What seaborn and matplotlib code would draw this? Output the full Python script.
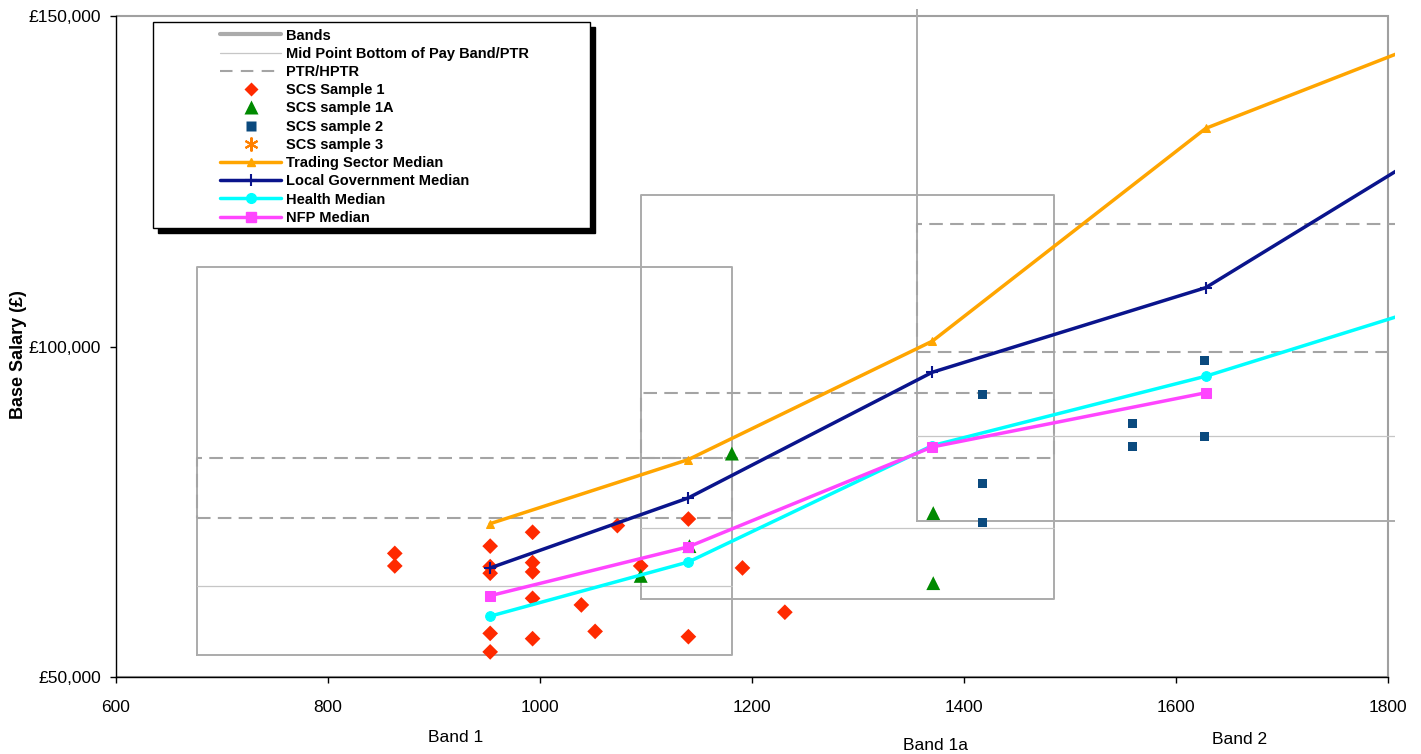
import matplotlib
matplotlib.use('Agg')
import matplotlib.pyplot as plt
import matplotlib.transforms as mtransforms
from matplotlib.lines import Line2D
from matplotlib.patches import Rectangle
from matplotlib import font_manager
import seaborn as sns

# Pay bands (job size range on x, salary range on y)
band_names = ['Band 1', 'Band 1a', 'Band 2']
band_left = [676, 1095, 1356]
band_right = [1181, 1485, 1900]
band_bottom = [53300, 61800, 73600]
band_top = [112100, 122900, 160000]
band_mid = [63800, 72600, 86500]
ptr_low = [74100, 83200, 99200]
ptr_high = [83200, 92900, 118500]
band_label_x = [920, 1373, 1660]

# SCS samples
scs1_x = [863, 863, 953, 953, 953, 953, 953, 993, 993, 993, 993, 993,
          1039, 1052, 1073, 1095, 1140, 1140, 1191, 1231]
scs1_y = [68700, 66800, 69800, 66700, 65700, 56600, 53800, 71900, 67300, 65900, 61900, 55800,
          60900, 56900, 72900, 66800, 73900, 56100, 66500, 59800]
scs1a_x = [1095, 1141, 1181, 1371, 1371]
scs1a_y = [65300, 69800, 83800, 74800, 64200]
scs2_x = [1417, 1417, 1417, 1559, 1559, 1627, 1627]
scs2_y = [92800, 79300, 73300, 88300, 84800, 97900, 86400]
scs3_x = []
scs3_y = []

# Market medians
median_x = [953, 1140, 1370, 1628, 1850]
trading_median = [73200, 82900, 100800, 133000, 146900]
local_gov_median = [66500, 77100, 96100, 108900, 130700]
health_median = [59200, 67400, 85000, 95500, 106600]
nfp_x = [953, 1140, 1370, 1628]
nfp_median = [62300, 69700, 84800, 93000]

x_ticks = [600, 800, 1000, 1200, 1400, 1600, 1800]
y_ticks = [50000, 100000, 150000]
y_tick_labels = ['£50,000', '£100,000', '£150,000']

legend_labels = ['Bands', 'Mid Point Bottom of Pay Band/PTR', 'PTR/HPTR', 'SCS Sample 1',
                 'SCS sample 1A', 'SCS sample 2', 'SCS sample 3', 'Trading Sector Median',
                 'Local Government Median', 'Health Median', 'NFP Median']

band_color = '#ABABAB'
mid_color = '#C6C6C6'
ptr_color = '#A4A4A4'
ptr_dash = (0, (6.5, 3.5))
scs1_color = '#FF2A00'
scs1a_color = '#008A00'
scs2_color = '#0B4A7E'
scs3_color = '#FF8000'
trading_color = '#FFA500'
lg_color = '#0A148C'
health_color = '#00FFFF'
nfp_color = '#FF45FF'
median_lw = 2.5

sns.set_style('ticks')
names = {f.name for f in font_manager.fontManager.ttflist}
tick_family = 'Liberation Sans Narrow' if 'Liberation Sans Narrow' in names else 'Liberation Sans'
plt.rcParams['font.family'] = [tick_family, 'DejaVu Sans']
plt.rcParams['text.color'] = 'black'
plt.rcParams['axes.labelcolor'] = 'black'
plt.rcParams['xtick.color'] = 'black'
plt.rcParams['ytick.color'] = 'black'
tick_size = 13.5 if tick_family == 'Liberation Sans Narrow' else 12.5

W, H = 1421, 754
fig = plt.figure(figsize=(W / 100, H / 100), dpi=100)
ax = fig.add_axes([116 / W, 77 / H, 1279 / W, 668 / H])

# plot area border
ax.add_patch(Rectangle((600, 50000), 1200, 100000, fill=False, edgecolor='#A0A0A0', lw=1.5, zorder=0.5))

# bands, mid points and PTR boxes
for i in range(len(band_names)):
    l, r = band_left[i], band_right[i]
    ax.plot([l, r, r, l, l], [band_bottom[i], band_bottom[i], band_top[i], band_top[i], band_bottom[i]],
            color=band_color, lw=1.4, zorder=1)
    ax.plot([l, r], [band_mid[i], band_mid[i]], color=mid_color, lw=0.9, zorder=1)
    ax.plot([l, r, r, l, l], [ptr_low[i], ptr_low[i], ptr_high[i], ptr_high[i], ptr_low[i]],
            color=ptr_color, lw=1.5, ls=ptr_dash, zorder=1.2)

# samples
sns.scatterplot(x=scs1_x, y=scs1_y, marker='D', s=64, color=scs1_color, edgecolor='none', ax=ax, zorder=3)
sns.scatterplot(x=scs1a_x, y=scs1a_y, marker='^', s=100, color=scs1a_color, edgecolor='none', ax=ax, zorder=3)
sns.scatterplot(x=scs2_x, y=scs2_y, marker='s', s=42, color=scs2_color, edgecolor='none', ax=ax, zorder=3)

# medians
sns.lineplot(x=median_x, y=trading_median, color=trading_color, lw=median_lw, marker='^', ms=6,
             mec=trading_color, sort=False, estimator=None, ax=ax, zorder=4)
sns.lineplot(x=median_x, y=local_gov_median, color=lg_color, lw=median_lw, marker='+', ms=8, mew=1.5,
             mec=lg_color, sort=False, estimator=None, ax=ax, zorder=4)
sns.lineplot(x=median_x, y=health_median, color=health_color, lw=median_lw, marker='o', ms=7,
             mec=health_color, sort=False, estimator=None, ax=ax, zorder=4)
sns.lineplot(x=nfp_x, y=nfp_median, color=nfp_color, lw=median_lw, marker='s', ms=7.5,
             mec=nfp_color, sort=False, estimator=None, ax=ax, zorder=4)

ax.set_xlim(600, 1806.6)
ax.set_ylim(50000, 151060)
ax.set_xticks(x_ticks)
ax.set_xticklabels([str(t) for t in x_ticks])
ax.set_yticks(y_ticks)
ax.set_yticklabels(y_tick_labels)
ax.tick_params(axis='both', direction='out', length=4.5, width=1, color='black',
               labelcolor='black', labelsize=tick_size)
ax.tick_params(axis='x', pad=12)
ax.tick_params(axis='y', pad=6.4)
for side in ['top', 'right']:
    ax.spines[side].set_visible(False)
ax.spines['left'].set_bounds(50000, 150000)
ax.spines['bottom'].set_bounds(600, 1800)
for side in ['left', 'bottom']:
    ax.spines[side].set_color('black')
    ax.spines[side].set_linewidth(1)

ax.set_ylabel('Base Salary (£)', fontsize=13, fontweight='bold', color='black',
              family=['Liberation Sans', 'DejaVu Sans'])
ax.yaxis.set_label_coords(-0.0696, 0.483)

# band names under the axis
trans = mtransforms.blended_transform_factory(ax.transData, fig.transFigure)
label_y_px = [737, 745, 740]
for name, bx, py in zip(band_names, band_label_x, label_y_px):
    ax.text(bx, 1 - py / H, name, transform=trans, ha='center', va='center', fontsize=tick_size,
            color='black', clip_on=False)

# legend with shadowed frame
handles = [
    Line2D([], [], color=band_color, lw=3),
    Line2D([], [], color=mid_color, lw=0.9),
    Line2D([], [], color=ptr_color, lw=1.5, ls=(0, (6, 4))),
    Line2D([], [], ls='none', marker='D', ms=7.5, color=scs1_color, mec='none'),
    Line2D([], [], ls='none', marker='^', ms=10, color=scs1a_color, mec='none'),
    Line2D([], [], ls='none', marker='s', ms=6.5, color=scs2_color, mec='none'),
    Line2D([], [], ls='none', marker=(6, 2, 0), ms=10, color=scs3_color, mew=1.5),
    Line2D([], [], color=trading_color, lw=median_lw, marker='^', ms=6),
    Line2D([], [], color=lg_color, lw=median_lw, marker='+', ms=8, mew=1.5),
    Line2D([], [], color=health_color, lw=median_lw, marker='o', ms=7),
    Line2D([], [], color=nfp_color, lw=median_lw, marker='s', ms=7.5),
]
ax.add_artist(Rectangle((158 / W, 1 - 233 / H), 437 / W, 206 / H, transform=fig.transFigure,
                        facecolor='black', edgecolor='black', lw=1, zorder=6, clip_on=False))
ax.add_artist(Rectangle((153 / W, 1 - 228 / H), 437 / W, 206 / H, transform=fig.transFigure,
                        facecolor='white', edgecolor='black', lw=1, zorder=6.1, clip_on=False))
leg = ax.legend(handles, legend_labels, loc='upper left', bbox_to_anchor=(220 / W, 1 - 28.5 / H),
                bbox_transform=fig.transFigure, frameon=False, borderpad=0, borderaxespad=0,
                handlelength=4.2, handletextpad=0.35, labelspacing=0.29, numpoints=1,
                prop={'family': ['Liberation Sans', 'DejaVu Sans'], 'weight': 'bold', 'size': 10.5})
for txt in leg.get_texts():
    txt.set_color('black')
leg.set_zorder(7)

fig.savefig('out.png', dpi=100)
